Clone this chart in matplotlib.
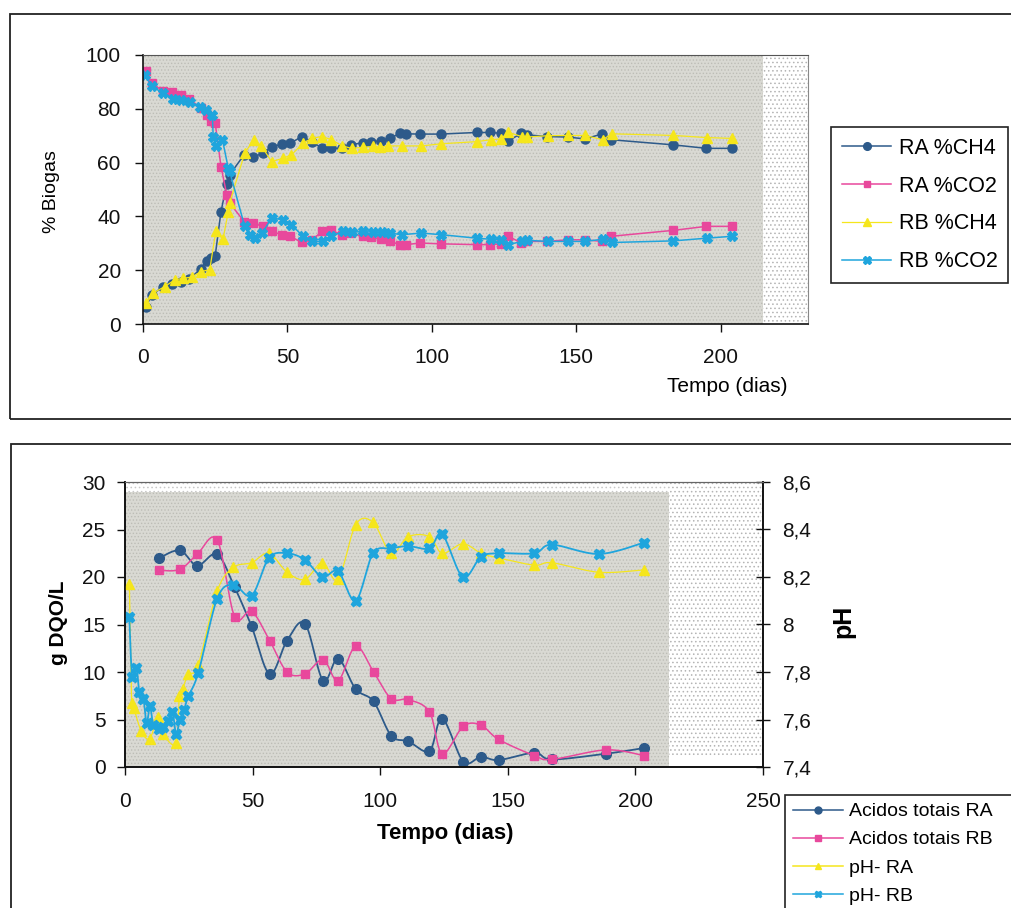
import numpy as np
import matplotlib
matplotlib.use("Agg")
import matplotlib.pyplot as plt
from matplotlib.patches import Rectangle
from matplotlib.ticker import FuncFormatter

plt.rcParams['font.family'] = ['Liberation Sans', 'DejaVu Sans']
plt.rcParams['hatch.linewidth'] = 0.6

# ---------------- biogas composition (top panel) ----------------
dias_RA = [1, 3, 7, 10, 13, 16, 20, 22, 23.5, 25, 27, 29, 30, 35, 38, 41.5, 44.5, 48, 51,
           55, 58.5, 62, 65, 69, 72, 76, 79, 82.5, 85.5, 89, 91, 96, 103, 115.5, 120, 124,
           126.5, 131, 133, 140, 147, 153, 159, 162, 183.5, 195, 204]
RA_CH4 = [6.4, 10.8, 13.9, 14.8, 15.6, 16.6, 20.6, 23.4, 24.6, 25.4, 41.8, 52.1, 55.5, 62.9,
          62.0, 63.5, 65.8, 66.9, 67.2, 69.7, 67.8, 65.3, 65.3, 65.3, 66.6, 67.4, 67.8, 68.1,
          69.1, 70.9, 70.7, 70.6, 70.6, 71.2, 71.2, 70.9, 68.1, 70.9, 70.3, 69.7, 69.5, 68.8,
          70.7, 68.5, 66.6, 65.3, 65.3]
RA_CO2 = [93.9, 89.6, 86.5, 86.1, 85.2, 83.6, 80.3, 77.8, 75.3, 74.7, 58.5, 48.1, 45.0, 38.1,
          37.5, 36.3, 34.4, 33.2, 32.6, 30.3, 31.3, 34.4, 34.8, 33.2, 33.8, 32.6, 32.3, 31.5,
          30.7, 29.5, 29.5, 30.1, 29.8, 29.5, 29.5, 29.8, 32.6, 30.1, 30.7, 30.7, 31.3, 31.3,
          30.7, 32.6, 34.8, 36.3, 36.3]

dias_RB_CH4 = [1.2, 3.5, 7.5, 11, 13.9, 16.8, 20.2, 23.1, 25.2, 27.7, 29.5, 30, 35.2, 38.3,
               41, 44.5, 48.5, 51.4, 55.4, 58.6, 62.1, 65.2, 69, 72.2, 76.2, 79.7, 82, 84.9,
               89.5, 96.4, 103.3, 115.5, 120.3, 123.8, 126.5, 131.1, 133, 140.3, 147.2, 153,
               159.1, 162.3, 183.6, 195.1, 203.8]
RB_CH4 = [7.7, 11.5, 13.9, 16.4, 17.0, 17.4, 19.5, 20.2, 34.4, 31.5, 41.8, 45.1, 63.5, 68.5,
          66.2, 60.4, 61.6, 62.9, 67.2, 69.1, 69.7, 68.5, 66.2, 65.3, 65.7, 66.0, 65.7, 66.2,
          66.2, 66.2, 67.0, 67.8, 68.5, 68.8, 71.2, 69.7, 69.5, 70.0, 70.1, 70.1, 68.5, 70.7,
          70.1, 69.3, 69.0]

dias_RB_CO2 = [0.6, 3.2, 6.9, 10.4, 13.3, 16.2, 19.6, 21.9, 24, 24.3, 25.4, 27.5, 29.5, 30,
               35.2, 37, 38.7, 41.3, 44.5, 48.3, 51.4, 55.4, 58.6, 62.4, 65.2, 69.3, 72.2,
               76.2, 79.7, 82.6, 85.5, 89.5, 96.4, 103.3, 115.5, 120.3, 123.8, 126.5, 131.1,
               133, 140.3, 147.2, 153, 159.1, 162.3, 183.6, 195.1, 203.8]
RB_CO2 = [92.6, 88.3, 85.8, 83.6, 83.3, 82.7, 80.8, 79.6, 77.7, 69.7, 66.0, 68.5, 58.0, 56.7,
          36.3, 33.2, 31.9, 33.8, 39.4, 38.8, 36.9, 32.6, 30.7, 30.7, 32.6, 34.4, 34.1, 34.4,
          34.1, 34.1, 33.8, 33.2, 33.8, 33.2, 31.9, 31.5, 31.3, 29.5, 30.7, 31.1, 30.7, 30.7,
          30.7, 31.5, 30.3, 30.9, 31.9, 32.6]

labels_biogas = ['RA %CH4', 'RA %CO2', 'RB %CH4', 'RB %CO2']

# ---------------- volatile acids and pH (bottom panel) ----------------
dias_acidos = [13.4, 21.5, 28.3, 36.1, 43.0, 49.6, 56.7, 63.5, 70.5, 77.6, 83.5, 90.4, 97.4,
               104.3, 111, 119.3, 124.3, 132.6, 139.5, 146.4, 160.4, 167.3, 188.5, 203.5]
acidos_RA = [22.0, 22.8, 21.2, 22.4, 18.9, 14.8, 9.8, 13.3, 15.1, 9.1, 11.4, 8.2, 6.9, 3.3,
             2.7, 1.7, 5.1, 0.56, 1.08, 0.73, 1.5, 0.8, 1.4, 2.0]
acidos_RB = [20.7, 20.8, 22.4, 23.9, 15.8, 16.4, 13.3, 10.0, 9.8, 11.3, 9.1, 12.7, 10.0, 7.2,
             7.1, 5.8, 1.4, 4.3, 4.4, 2.9, 1.2, 0.8, 1.8, 1.2]

dias_pH_RA = [1.7, 2.6, 3.4, 6.4, 9.7, 13.0, 14.9, 20.0, 21.3, 22.6, 24.8, 28.7, 36.1, 42.4,
              49.6, 56.4, 63.5, 70.5, 77.3, 83.5, 90.4, 97.2, 104.3, 111, 119.3, 124.3, 132.4,
              139.5, 146.4, 160.4, 167.3, 185.7, 203.5]
pH_RA = [8.17, 7.67, 7.65, 7.55, 7.52, 7.61, 7.54, 7.50, 7.70, 7.73, 7.79, 7.83, 8.14, 8.24,
         8.26, 8.30, 8.22, 8.19, 8.26, 8.19, 8.42, 8.43, 8.30, 8.37, 8.37, 8.30, 8.34, 8.30,
         8.28, 8.25, 8.26, 8.22, 8.23]

dias_pH_RB = [1.7, 2.8, 4.5, 5.6, 7.2, 8.5, 9.8, 11.1, 13.4, 15.0, 16.9, 18.6, 20.0, 21.5,
              23.1, 24.8, 28.7, 36.1, 42.4, 49.6, 56.4, 63.5, 70.5, 77.3, 83.5, 90.4, 97.2,
              104.3, 111, 119.3, 124.3, 132.4, 139.5, 146.4, 160.4, 167.3, 185.7, 203.5]
pH_RB = [8.03, 7.78, 7.815, 7.716, 7.688, 7.586, 7.656, 7.576, 7.558, 7.57, 7.592, 7.632,
         7.54, 7.60, 7.64, 7.698, 7.796, 8.108, 8.168, 8.122, 8.28, 8.30, 8.272, 8.20, 8.224,
         8.10, 8.30, 8.32, 8.33, 8.32, 8.38, 8.20, 8.285, 8.30, 8.30, 8.336, 8.297, 8.345]

labels_acidos = ['Acidos totais RA', 'Acidos totais RB', 'pH- RA', 'pH- RB']

# ---------------- style ----------------
C_NAVY = '#2d5a8a'
C_PINK = '#e8489c'
C_YELLOW = '#f5e61c'
C_CYAN = '#1fa5dd'
GREY = '#d9d9d3'

W, H = 1011, 908
fig = plt.figure(figsize=(W / 100, H / 100), dpi=100)


def box(x0, y0, x1, y1):
    return [x0 / W, 1 - y1 / H, (x1 - x0) / W, (y1 - y0) / H]


def smooth(x, y, n=16):
    """Bezier-smoothed path through the points (spreadsheet 'smoothed line' style)."""
    p = np.column_stack([x, y]).astype(float)
    out = [p[0]]
    t = np.linspace(0, 1, n)[1:, None]
    for i in range(len(p) - 1):
        p0 = p[i - 1] if i > 0 else p[i]
        p1, p2 = p[i], p[i + 1]
        p3 = p[i + 2] if i + 2 < len(p) else p[i + 1]
        b1 = p1 + (p2 - p0) / 6
        b2 = p2 - (p3 - p1) / 6
        seg = ((1 - t) ** 3) * p1 + 3 * ((1 - t) ** 2) * t * b1 + 3 * (1 - t) * t ** 2 * b2 + t ** 3 * p2
        out.extend(seg)
    out = np.array(out)
    return out[:, 0], out[:, 1]


# outer frames of the two charts
fig.patches.append(Rectangle((10 / W, 1 - 419 / H), 1.2, (419 - 14) / H,
                             transform=fig.transFigure, fill=False, lw=1.3, ec='#222'))
fig.patches.append(Rectangle((11 / W, -0.2), 1.2, (1 - 444 / H) + 0.2,
                             transform=fig.transFigure, fill=False, lw=1.3, ec='#222'))

# ================= top panel =================
ax1 = fig.add_axes(box(143, 55, 808, 324))
ax1.set_facecolor('white')
x1max = 230.2
ax1.set_xlim(0, x1max)
ax1.set_ylim(0, 100)
ax1.add_patch(Rectangle((0, 0), 214.6, 100, fc=GREY, ec='#bdbdb6', lw=0, hatch='.....', zorder=0.5))
ax1.add_patch(Rectangle((214.6, 0), x1max - 214.6, 100, fc='white', ec='#b4b4b4', lw=0,
                        hatch='....', zorder=0.5))

l1, = ax1.plot(dias_RA, RA_CH4, color=C_NAVY, marker='o', markersize=6.5, lw=1.1)
l2, = ax1.plot(dias_RA, RA_CO2, color=C_PINK, marker='s', markersize=5.8, lw=1.1)
l3, = ax1.plot(dias_RB_CH4, RB_CH4, color=C_YELLOW, marker='^', markersize=7, lw=0.9)
l4, = ax1.plot(dias_RB_CO2, RB_CO2, color=C_CYAN, marker='X', markersize=7, lw=1.1)

ax1.set_xticks([0, 50, 100, 150, 200])
ax1.set_yticks([0, 20, 40, 60, 80, 100])
ax1.tick_params(direction='out', length=6, width=1, labelsize=15, pad=10, colors='#111')
ax1.tick_params(axis='x', pad=11)
for s in ('left', 'bottom'):
    ax1.spines[s].set_color('#111')
    ax1.spines[s].set_linewidth(1.2)
ax1.spines['top'].set_color('#555')
ax1.spines['right'].set_color('#888')

fig.text(52 / W, 1 - 192 / H, '% Biogas', rotation=90, ha='center', va='center', fontsize=14)
fig.text(727 / W, 1 - 387 / H, 'Tempo (dias)', ha='center', va='center', fontsize=15)

leg1 = fig.legend([l1, l2, l3, l4], labels_biogas, loc='upper left',
                  bbox_to_anchor=(831 / W, 1 - 127 / H), borderaxespad=0, fontsize=15.5,
                  frameon=True, fancybox=False, edgecolor='#222', framealpha=1,
                  handlelength=2.3, handletextpad=0.35, labelspacing=0.78, borderpad=0.5,
                  markerscale=0.85)
leg1.get_frame().set_linewidth(1.2)

# ================= bottom panel =================
ax2 = fig.add_axes(box(125, 482, 763, 767))
ax2.set_facecolor('white')
ax2.set_xlim(0, 250)
ax2.set_ylim(0, 30)
ax2.add_patch(Rectangle((0, 0), 213.2, 28.9, fc=GREY, ec='#bdbdb6', lw=0, hatch='.....', zorder=0.5))
ax2.add_patch(Rectangle((0, 28.9), 213.2, 1.1, fc='white', ec='#c8c8c8', lw=0, hatch='....', zorder=0.5))
ax2.add_patch(Rectangle((213.2, 1.05), 250 - 213.2, 30 - 1.05, fc='white', ec='#b4b4b4', lw=0,
                        hatch='....', zorder=0.5))

ax2b = ax2.twinx()
ax2b.set_ylim(7.4, 8.6)

sx, sy = smooth(dias_acidos, acidos_RA)
ax2.plot(sx, sy, color=C_NAVY, lw=1.3)
ax2.plot(dias_acidos, acidos_RA, color=C_NAVY, marker='o', markersize=7, lw=0)
sx, sy = smooth(dias_acidos, acidos_RB)
ax2.plot(sx, sy, color=C_PINK, lw=1.1)
ax2.plot(dias_acidos, acidos_RB, color=C_PINK, marker='s', markersize=6, lw=0)
sx, sy = smooth(dias_pH_RA, pH_RA)
ax2b.plot(sx, sy, color=C_YELLOW, lw=0.9)
ax2b.plot(dias_pH_RA, pH_RA, color=C_YELLOW, marker='^', markersize=7, lw=0)
sx, sy = smooth(dias_pH_RB, pH_RB)
ax2b.plot(sx, sy, color=C_CYAN, lw=1.3)
ax2b.plot(dias_pH_RB, pH_RB, color=C_CYAN, marker='X', markersize=7.5, lw=0)

ax2.set_xticks([0, 50, 100, 150, 200, 250])
ax2.set_yticks([0, 5, 10, 15, 20, 25, 30])
ax2.tick_params(direction='out', length=6, width=1, labelsize=15, pad=8, colors='#111')
ax2.tick_params(axis='x', pad=12)
ax2b.set_yticks([7.4, 7.6, 7.8, 8.0, 8.2, 8.4, 8.6])
ax2b.yaxis.set_major_formatter(FuncFormatter(lambda v, p: ('%g' % round(v, 1)).replace('.', ',')))
ax2b.tick_params(direction='inout', length=10, width=1, labelsize=15, pad=9, colors='#111')
for a in (ax2, ax2b):
    for s in ('left', 'bottom', 'right'):
        a.spines[s].set_color('#111')
        a.spines[s].set_linewidth(1.2)
    a.spines['top'].set_color('#666')

fig.text(58 / W, 1 - 623 / H, 'g DQO/L', rotation=90, ha='center', va='center',
         fontsize=15, fontweight='bold')
fig.text(843 / W, 1 - 621 / H, 'pH', rotation=90, ha='center', va='center',
         fontsize=18, fontweight='bold')
fig.text(445 / W, 1 - 834 / H, 'Tempo (dias)', ha='center', va='center',
         fontsize=16, fontweight='bold')

h1 = plt.Line2D([], [], color=C_NAVY, marker='o', markersize=5, lw=1.1)
h2 = plt.Line2D([], [], color=C_PINK, marker='s', markersize=5, lw=1.1)
h3 = plt.Line2D([], [], color=C_YELLOW, marker='^', markersize=5, lw=1.1)
h4 = plt.Line2D([], [], color=C_CYAN, marker='X', markersize=5, lw=1.1)
leg2 = fig.legend([h1, h2, h3, h4], labels_acidos, loc='upper left', mode='expand',
                  bbox_to_anchor=(785 / W, 1 - 795 / H - 0.3, 0.26, 0.3), borderaxespad=0,
                  fontsize=14, frameon=True, fancybox=False, edgecolor='#222', framealpha=1,
                  handlelength=2.6, handletextpad=0.3, labelspacing=0.54, borderpad=0.4)
leg2.get_frame().set_linewidth(1.2)

fig.savefig('out.png', dpi=100)
